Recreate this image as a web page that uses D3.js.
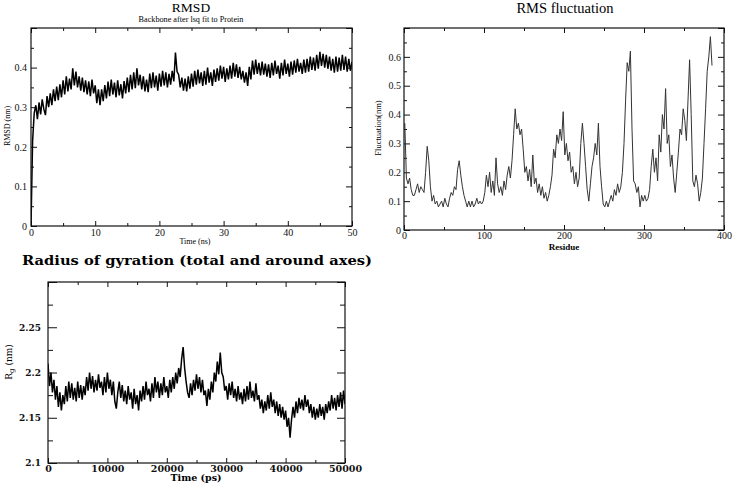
<!DOCTYPE html>
<html><head><meta charset="utf-8">
<script src="https://cdn.jsdelivr.net/npm/d3@7"></script>
<style>body{margin:0;background:#fff} svg{display:block}</style>
</head><body>
<svg id="c" width="733" height="483"></svg>
<script>
// ---------- DATA ----------
// RMSD (nm) sampled every 0.25 ns from 0 to 50 ns
const rmsdTimeStep = 0.25;
const rmsdValues = [
0.000,0.215,0.285,0.305, 0.270,0.312,0.282,0.320, 0.295,0.280,0.328,0.300, 0.335,0.305,0.345,0.315,
0.352,0.318,0.358,0.325, 0.368,0.332,0.378,0.340, 0.372,0.345,0.398,0.355, 0.390,0.350,0.378,0.342,
0.375,0.338,0.368,0.332, 0.365,0.328,0.370,0.335, 0.355,0.310,0.345,0.305, 0.345,0.315,0.356,0.322,
0.365,0.328,0.370,0.332, 0.362,0.325,0.368,0.330, 0.358,0.322,0.366,0.335, 0.375,0.338,0.382,0.345,
0.388,0.348,0.398,0.355, 0.382,0.345,0.378,0.340, 0.370,0.338,0.385,0.348, 0.388,0.350,0.380,0.342,
0.385,0.352,0.392,0.355, 0.388,0.350,0.384,0.357, 0.392,0.365,0.438,0.390, 0.382,0.350,0.375,0.342,
0.372,0.340,0.378,0.347, 0.385,0.352,0.392,0.357, 0.395,0.360,0.388,0.354, 0.392,0.357,0.400,0.362,
0.388,0.354,0.395,0.364, 0.398,0.367,0.405,0.372, 0.402,0.364,0.398,0.370, 0.405,0.372,0.412,0.377,
0.408,0.374,0.402,0.370, 0.392,0.362,0.388,0.354, 0.402,0.370,0.418,0.382, 0.420,0.384,0.412,0.380,
0.415,0.382,0.410,0.377, 0.408,0.374,0.412,0.380, 0.418,0.384,0.405,0.372, 0.412,0.380,0.420,0.384,
0.410,0.377,0.415,0.382, 0.418,0.387,0.422,0.390, 0.412,0.384,0.420,0.387, 0.422,0.390,0.428,0.394,
0.425,0.392,0.432,0.397, 0.440,0.404,0.435,0.400, 0.432,0.397,0.428,0.392, 0.422,0.387,0.428,0.390,
0.425,0.392,0.432,0.394, 0.428,0.390,0.422,0.392, 0.415
];
// RMS fluctuation (nm) for residues 1,3,5,...,385
const rmsfFirstResidue = 1, rmsfResidueStep = 2;
const rmsfValues = [
0.37,0.18,0.16,0.18,0.14,0.12,0.12,0.14,0.16,0.13,0.15,0.14,0.13,0.20,0.29,0.24,0.15,0.10,0.12,0.09,
0.10,0.08,0.09,0.10,0.08,0.11,0.09,0.08,0.11,0.13,0.12,0.15,0.14,0.21,0.24,0.19,0.15,0.12,0.10,0.08,
0.10,0.08,0.10,0.08,0.09,0.11,0.09,0.10,0.09,0.10,0.13,0.19,0.15,0.20,0.13,0.17,0.12,0.25,0.16,0.13,
0.15,0.12,0.17,0.14,0.19,0.22,0.18,0.24,0.33,0.42,0.35,0.37,0.33,0.35,0.28,0.20,0.22,0.17,0.21,0.15,
0.26,0.16,0.18,0.13,0.16,0.12,0.15,0.11,0.13,0.10,0.12,0.15,0.19,0.28,0.25,0.33,0.30,0.35,0.31,0.41,
0.26,0.30,0.24,0.27,0.20,0.22,0.16,0.20,0.15,0.18,0.30,0.37,0.30,0.22,0.14,0.10,0.16,0.22,0.25,0.30,
0.26,0.37,0.22,0.15,0.09,0.08,0.10,0.08,0.10,0.12,0.10,0.14,0.12,0.16,0.13,0.15,0.20,0.30,0.45,0.58,
0.55,0.62,0.35,0.17,0.16,0.13,0.15,0.08,0.12,0.10,0.12,0.10,0.11,0.14,0.22,0.28,0.20,0.25,0.17,0.33,
0.27,0.40,0.35,0.49,0.30,0.33,0.22,0.26,0.18,0.13,0.20,0.27,0.35,0.33,0.42,0.38,0.31,0.45,0.59,0.40,
0.17,0.15,0.19,0.16,0.10,0.13,0.18,0.30,0.42,0.55,0.60,0.67,0.57
];
// Radius of gyration (nm) sampled every 250 ps from 0 to 50000 ps
const rgTimeStep = 250;
const rgValues = [
2.210,2.185,2.200,2.178, 2.192,2.170,2.185,2.162, 2.178,2.158,2.175,2.165, 2.185,2.168,2.190,2.172,
2.188,2.170,2.183,2.168, 2.190,2.172,2.186,2.170, 2.185,2.175,2.195,2.180, 2.200,2.182,2.196,2.178,
2.192,2.180,2.198,2.183, 2.190,2.175,2.195,2.178, 2.200,2.182,2.192,2.175, 2.190,2.168,2.160,2.178,
2.190,2.172,2.186,2.168, 2.180,2.165,2.185,2.170, 2.178,2.160,2.182,2.165, 2.175,2.158,2.180,2.168,
2.185,2.170,2.190,2.175, 2.182,2.168,2.188,2.172, 2.195,2.178,2.190,2.172, 2.188,2.175,2.195,2.178,
2.185,2.172,2.192,2.178, 2.195,2.182,2.200,2.188, 2.205,2.195,2.215,2.228, 2.205,2.190,2.178,2.172,
2.188,2.175,2.192,2.180, 2.198,2.182,2.195,2.178, 2.192,2.175,2.180,2.163, 2.182,2.170,2.190,2.178,
2.200,2.190,2.212,2.198, 2.222,2.200,2.195,2.180, 2.185,2.170,2.188,2.175, 2.190,2.172,2.182,2.168,
2.185,2.170,2.178,2.165, 2.182,2.168,2.185,2.170, 2.190,2.172,2.180,2.168, 2.188,2.170,2.175,2.160,
2.170,2.155,2.168,2.158, 2.175,2.160,2.178,2.162, 2.170,2.155,2.168,2.152, 2.165,2.150,2.162,2.148,
2.158,2.140,2.150,2.128, 2.148,2.162,2.150,2.168, 2.155,2.172,2.160,2.170, 2.158,2.175,2.162,2.170,
2.155,2.165,2.150,2.162, 2.148,2.160,2.150,2.165, 2.152,2.162,2.148,2.165, 2.155,2.168,2.158,2.175,
2.160,2.172,2.158,2.175, 2.162,2.178,2.160,2.180, 2.165
];
// Tick values
const rmsdXTicks = [0,10,20,30,40,50], rmsdXMinor = [5,15,25,35,45];
const rmsdYTicks = [0,0.1,0.2,0.3,0.4,0.5], rmsdYMinor = [0.05,0.15,0.25,0.35,0.45];
const rmsfXTicks = [0,100,200,300,400], rmsfXMinor = [50,150,250,350];
const rmsfYTicks = [0,0.1,0.2,0.3,0.4,0.5,0.6,0.7], rmsfYMinor = [0.05,0.15,0.25,0.35,0.45,0.55,0.65];
const rgXTicks = [0,10000,20000,30000,40000,50000], rgXMinor = [5000,15000,25000,35000,45000];
const rgYTicks = [2.1,2.15,2.2,2.25,2.3], rgYMinor = [2.125,2.175,2.225,2.275];

// ---------- DRAW ----------
const svg = d3.select('#c');
const SERIF = "'Liberation Serif','Times New Roman',serif";
const DJS = "'DejaVu Serif',serif";

function panel(o) {
  const x = d3.scaleLinear().domain(o.xDomain).range([o.l, o.r]);
  const y = d3.scaleLinear().domain(o.yDomain).range([o.b, o.t]);
  const g = svg.append('g');
  const clipId = 'clip' + Math.round(o.l);
  svg.append('clipPath').attr('id', clipId).append('rect')
    .attr('x', o.l).attr('y', o.t).attr('width', o.r - o.l).attr('height', o.b - o.t);

  const style = (size) => sel => {
    sel.select('.domain').remove();
    sel.selectAll('line').attr('stroke', '#111').attr('stroke-width', 1);
    sel.selectAll('text').attr('font-family', o.tickFont).attr('font-size', size)
      .attr('font-weight', o.tickWeight || 'normal').attr('fill', '#111');
  };
  const lbl = fmt => d => (o.hideLabels && o.hideLabels.includes(d)) ? '' : fmt(d);

  // bottom
  g.append('g').attr('transform', `translate(0,${o.b})`)
    .call(d3.axisBottom(x).tickValues(o.xTicks).tickSize(-o.majH).tickSizeOuter(0)
      .tickPadding(o.xPad).tickFormat(lbl(o.xFmt))).call(style(o.xTickSize));
  g.append('g').attr('transform', `translate(0,${o.b})`)
    .call(d3.axisBottom(x).tickValues(o.xMinor).tickSize(-o.minH).tickSizeOuter(0).tickFormat('')).call(style(o.xTickSize));
  // top
  g.append('g').attr('transform', `translate(0,${o.t})`)
    .call(d3.axisTop(x).tickValues(o.xTicks).tickSize(-o.majH).tickSizeOuter(0).tickFormat('')).call(style(o.xTickSize));
  g.append('g').attr('transform', `translate(0,${o.t})`)
    .call(d3.axisTop(x).tickValues(o.xMinor).tickSize(-o.minH).tickSizeOuter(0).tickFormat('')).call(style(o.xTickSize));
  // left
  g.append('g').attr('transform', `translate(${o.l},0)`)
    .call(d3.axisLeft(y).tickValues(o.yTicks).tickSize(-o.majV).tickSizeOuter(0)
      .tickPadding(o.yPad).tickFormat(lbl(o.yFmt))).call(style(o.yTickSize));
  g.append('g').attr('transform', `translate(${o.l},0)`)
    .call(d3.axisLeft(y).tickValues(o.yMinor).tickSize(-o.minV).tickSizeOuter(0).tickFormat('')).call(style(o.yTickSize));
  // right
  g.append('g').attr('transform', `translate(${o.r},0)`)
    .call(d3.axisRight(y).tickValues(o.yTicks).tickSize(-o.majVR).tickSizeOuter(0).tickFormat('')).call(style(o.yTickSize));
  g.append('g').attr('transform', `translate(${o.r},0)`)
    .call(d3.axisRight(y).tickValues(o.yMinor).tickSize(-o.minVR).tickSizeOuter(0).tickFormat('')).call(style(o.yTickSize));

  // data line
  const line = d3.line().x(d => x(d[0])).y(d => y(d[1]));
  g.append('path').datum(o.data).attr('clip-path', `url(#${clipId})`)
    .attr('d', line).attr('fill', 'none').attr('stroke', o.lineColor)
    .attr('stroke-width', o.lineWidth).attr('stroke-linejoin', 'miter');

  // frame
  g.append('rect').attr('x', o.l).attr('y', o.t).attr('width', o.r - o.l).attr('height', o.b - o.t)
    .attr('fill', 'none').attr('stroke', '#111').attr('stroke-width', 1.2);
  return g;
}

const fmtPlain = d => String(+d.toFixed(3));

// RMSD panel
panel({
  l: 31, r: 352, t: 28, b: 226,
  xDomain: [0, 50], yDomain: [0, 0.5],
  xTicks: rmsdXTicks, xMinor: rmsdXMinor, yTicks: rmsdYTicks, yMinor: rmsdYMinor,
  xFmt: fmtPlain, yFmt: fmtPlain, hideLabels: [0.5],
  majH: 5, minH: 3, majV: 6, minV: 3, majVR: 6, minVR: 3,
  xPad: 3, yPad: 4, tickFont: SERIF, xTickSize: 10, yTickSize: 10,
  data: rmsdValues.map((v, i) => [i * rmsdTimeStep, v]),
  lineColor: '#000', lineWidth: 1.5
});
svg.append('text').attr('x', 191).attr('y', 12.2).attr('text-anchor', 'middle')
  .attr('font-family', SERIF).attr('font-size', 13.5).text('RMSD');
svg.append('text').attr('x', 191).attr('y', 22).attr('text-anchor', 'middle')
  .attr('font-family', SERIF).attr('font-size', 8.2).text('Backbone after lsq fit to Protein');
svg.append('text').attr('transform', 'translate(10,126) rotate(-90)').attr('text-anchor', 'middle')
  .attr('font-family', SERIF).attr('font-size', 8).text('RMSD (nm)');
svg.append('text').attr('x', 195).attr('y', 244).attr('text-anchor', 'middle')
  .attr('font-family', SERIF).attr('font-size', 8).text('Time (ns)');

// RMSF panel
panel({
  l: 404, r: 724, t: 28, b: 230,
  xDomain: [0, 400], yDomain: [0, 0.7],
  xTicks: rmsfXTicks, xMinor: rmsfXMinor, yTicks: rmsfYTicks, yMinor: rmsfYMinor,
  xFmt: fmtPlain, yFmt: fmtPlain, hideLabels: [0.7],
  majH: 5, minH: 3, majV: 6, minV: 3, majVR: 6, minVR: 3,
  xPad: 2, yPad: 3, tickFont: SERIF, xTickSize: 10, yTickSize: 10,
  data: rmsfValues.map((v, i) => [rmsfFirstResidue + i * rmsfResidueStep, v]),
  lineColor: '#333', lineWidth: 1
});
svg.append('text').attr('x', 565).attr('y', 12.5).attr('text-anchor', 'middle')
  .attr('font-family', SERIF).attr('font-size', 14.5).text('RMS fluctuation');
svg.append('text').attr('transform', 'translate(381,128) rotate(-90)').attr('text-anchor', 'middle')
  .attr('font-family', SERIF).attr('font-size', 8.5).text('Fluctuation(nm)');
svg.append('text').attr('x', 564).attr('y', 249.5).attr('text-anchor', 'middle')
  .attr('font-family', SERIF).attr('font-size', 9).attr('font-weight', 'bold').text('Residue');

// Rg panel
panel({
  l: 48, r: 345, t: 282, b: 463,
  xDomain: [0, 50000], yDomain: [2.1, 2.3],
  xTicks: rgXTicks, xMinor: rgXMinor, yTicks: rgYTicks, yMinor: rgYMinor,
  xFmt: d => String(d), yFmt: fmtPlain, hideLabels: [2.3],
  majH: 5, minH: 3, majV: 9, minV: 5, majVR: 8, minVR: 5,
  xPad: 2, yPad: 7, tickFont: DJS, xTickSize: 9.5, yTickSize: 9, tickWeight: 'bold',
  data: rgValues.map((v, i) => [i * rgTimeStep, v]),
  lineColor: '#000', lineWidth: 1.5
});
svg.append('text').attr('x', 197).attr('y', 265).attr('text-anchor', 'middle')
  .attr('font-family', DJS).attr('font-size', 13).attr('font-weight', 'bold')
  .attr('textLength', 350).attr('lengthAdjust', 'spacingAndGlyphs')
  .text('Radius of gyration (total and around axes)');
const rgl = svg.append('text').attr('transform', 'translate(12,362) rotate(-90)').attr('text-anchor', 'middle')
  .attr('font-family', DJS).attr('font-size', 9);
rgl.append('tspan').text('R');
rgl.append('tspan').attr('font-size', 7).attr('dy', 2).text('g');
rgl.append('tspan').attr('dy', -2).text(' (nm)');
svg.append('text').attr('x', 196).attr('y', 481).attr('text-anchor', 'middle')
  .attr('font-family', DJS).attr('font-size', 9.5).attr('font-weight', 'bold').text('Time (ps)');
</script></body></html>
